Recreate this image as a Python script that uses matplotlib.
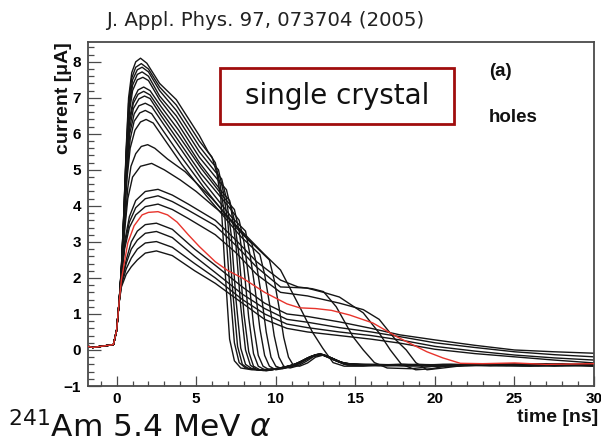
import matplotlib.pyplot as plt
from matplotlib.patches import Rectangle
from matplotlib.ticker import MultipleLocator

# common pre-trigger baseline and start of the rise (all pulses)
pre_t = [-2.0, -1.5, -1.0, -0.5, -0.2, 0.0, 0.15]
pre_i = [0.12, 0.07, 0.10, 0.13, 0.15, 0.55, 1.30]

# fast pulses: high peak, sharp fall at 7-11 ns
fast_t = [
    [0.3, 0.45, 0.6, 0.75, 0.95, 1.2, 1.5, 1.9, 2.7, 3.75, 5.2, 5.75, 6.0, 6.3, 6.55, 6.8, 7.1, 7.4, 7.8,
     8.5, 9.5, 10.5, 11.3, 12.0, 12.8, 13.5, 14.3, 16, 18, 20, 22.5, 25, 27.5, 30],
    [0.3, 0.45, 0.6, 0.75, 0.95, 1.2, 1.55, 2.0, 2.7, 3.75, 5.2, 5.9, 6.2, 6.5, 6.8, 7.1, 7.4, 7.7, 8.1,
     9.0, 10.0, 10.8, 11.5, 12.2, 12.9, 13.6, 14.5, 16.5, 18.5, 21, 23.5, 26, 28, 30],
    [0.3, 0.45, 0.6, 0.78, 1.0, 1.3, 1.6, 2.0, 2.7, 3.75, 5.2, 6.0, 6.4, 6.7, 7.0, 7.3, 7.6, 7.9, 8.3,
     9.2, 10.2, 11.0, 11.7, 12.4, 13.0, 13.8, 14.6, 17, 19, 21.5, 24, 26.5, 30],
    [0.3, 0.45, 0.6, 0.8, 1.0, 1.3, 1.6, 2.0, 2.7, 3.75, 5.2, 6.2, 6.6, 6.9, 7.2, 7.5, 7.8, 8.1, 8.5,
     9.4, 10.3, 11.1, 11.8, 12.5, 13.1, 13.9, 14.8, 16.5, 19.5, 22, 24.5, 27, 30],
    [0.3, 0.45, 0.62, 0.8, 1.0, 1.3, 1.65, 2.0, 2.7, 3.75, 5.2, 6.4, 6.9, 7.2, 7.5, 7.8, 8.1, 8.4, 8.8,
     9.6, 10.4, 11.2, 11.9, 12.6, 13.2, 14.0, 15.0, 17.5, 20, 23, 25.5, 28, 30],
    [0.3, 0.45, 0.62, 0.8, 1.05, 1.35, 1.7, 2.1, 2.8, 3.9, 5.2, 6.6, 7.1, 7.4, 7.7, 8.0, 8.3, 8.6, 9.0,
     9.8, 10.6, 11.3, 12.0, 12.7, 13.3, 14.1, 15.0, 18, 20.5, 23, 26, 28.5, 30],
    [0.3, 0.45, 0.62, 0.8, 1.05, 1.35, 1.7, 2.1, 2.8, 3.9, 5.3, 6.8, 7.4, 7.7, 8.0, 8.3, 8.6, 8.9, 9.3,
     10.0, 10.8, 11.5, 12.1, 12.8, 13.4, 14.2, 15.5, 18, 21, 23.5, 26, 28, 30],
    [0.3, 0.45, 0.63, 0.82, 1.05, 1.4, 1.75, 2.1, 2.8, 3.9, 5.3, 7.0, 7.7, 8.0, 8.3, 8.6, 8.9, 9.2, 9.6,
     10.3, 11.0, 11.6, 12.2, 12.8, 13.5, 14.3, 16, 18.5, 21, 24, 26.5, 30],
    [0.3, 0.45, 0.63, 0.82, 1.1, 1.4, 1.8, 2.2, 2.9, 4.0, 5.4, 7.2, 8.1, 8.4, 8.7, 9.0, 9.3, 9.6, 10.0,
     10.6, 11.2, 11.8, 12.4, 12.9, 13.6, 14.4, 16.5, 19, 22, 24.5, 27, 30],
    [0.3, 0.45, 0.65, 0.85, 1.1, 1.45, 1.8, 2.2, 2.9, 4.0, 5.5, 7.5, 8.5, 8.8, 9.1, 9.4, 9.7, 10.0, 10.4,
     11.0, 11.5, 12.0, 12.5, 13.0, 13.7, 14.5, 17, 19.5, 22.5, 25, 27.5, 30],
    [0.3, 0.45, 0.65, 0.85, 1.15, 1.5, 1.85, 2.3, 3.0, 4.1, 5.6, 7.8, 9.0, 9.3, 9.6, 9.9, 10.2, 10.5, 10.9,
     11.4, 11.9, 12.4, 12.9, 13.5, 14.3, 16, 18.5, 21.5, 24, 26.5, 30],
    [0.3, 0.5, 0.7, 0.9, 1.2, 1.55, 1.95, 2.4, 3.2, 4.3, 6.0, 8.2, 9.6, 9.9, 10.2, 10.5, 10.8, 11.1, 11.5,
     12.0, 12.5, 13.0, 13.6, 14.4, 16.5, 19, 21, 23.5, 26, 28.5, 30],
]
fast_i = [
    [2.3, 3.8, 5.6, 7.0, 7.7, 8.0, 8.1, 7.96, 7.4, 6.95, 5.95, 5.5, 5.35, 4.9, 4.2, 2.3, 0.3, -0.3, -0.5,
     -0.55, -0.56, -0.48, -0.4, -0.22, -0.12, -0.24, -0.4, -0.42, -0.4, -0.45, -0.42, -0.4, -0.45, -0.42],
    [2.3, 3.8, 5.5, 6.85, 7.55, 7.85, 7.95, 7.8, 7.3, 6.8, 5.8, 5.4, 5.2, 4.6, 3.7, 1.8, 0.2, -0.35, -0.5,
     -0.55, -0.52, -0.46, -0.36, -0.18, -0.13, -0.27, -0.42, -0.4, -0.43, -0.4, -0.44, -0.41, -0.38, -0.43],
    [2.3, 3.75, 5.45, 6.8, 7.5, 7.78, 7.85, 7.72, 7.2, 6.65, 5.65, 5.2, 5.0, 4.4, 3.5, 1.6, 0.1, -0.4, -0.52,
     -0.57, -0.5, -0.44, -0.3, -0.15, -0.14, -0.3, -0.41, -0.44, -0.4, -0.43, -0.39, -0.43, -0.4],
    [2.25, 3.7, 5.4, 6.75, 7.35, 7.65, 7.72, 7.6, 7.05, 6.5, 5.5, 4.95, 4.75, 4.2, 3.2, 1.4, 0.05, -0.4, -0.52,
     -0.58, -0.5, -0.42, -0.27, -0.13, -0.15, -0.32, -0.4, -0.43, -0.41, -0.44, -0.42, -0.38, -0.44],
    [2.25, 3.7, 5.4, 6.6, 7.2, 7.5, 7.57, 7.48, 6.95, 6.35, 5.35, 4.7, 4.45, 3.9, 2.9, 1.2, 0.0, -0.42, -0.55,
     -0.56, -0.49, -0.41, -0.25, -0.12, -0.16, -0.33, -0.42, -0.41, -0.43, -0.4, -0.44, -0.41, -0.4],
    [2.2, 3.6, 5.3, 6.4, 6.95, 7.22, 7.3, 7.2, 6.75, 6.1, 5.2, 4.4, 4.15, 3.6, 2.6, 1.0, -0.05, -0.45, -0.55,
     -0.55, -0.47, -0.38, -0.22, -0.11, -0.18, -0.35, -0.41, -0.44, -0.4, -0.42, -0.45, -0.41, -0.43],
    [2.2, 3.6, 5.2, 6.3, 6.85, 7.1, 7.18, 7.08, 6.62, 5.95, 5.05, 4.2, 3.9, 3.3, 2.3, 0.9, -0.1, -0.45, -0.55,
     -0.53, -0.45, -0.34, -0.2, -0.1, -0.2, -0.36, -0.42, -0.4, -0.45, -0.41, -0.39, -0.43, -0.41],
    [2.2, 3.55, 5.1, 6.15, 6.7, 6.97, 7.05, 6.98, 6.5, 5.8, 4.9, 4.0, 3.6, 3.0, 2.0, 0.7, -0.15, -0.45, -0.55,
     -0.52, -0.43, -0.32, -0.18, -0.11, -0.23, -0.38, -0.4, -0.44, -0.41, -0.43, -0.4, -0.44],
    [2.2, 3.5, 5.0, 6.0, 6.55, 6.78, 6.85, 6.76, 6.3, 5.6, 4.7, 3.7, 3.3, 2.6, 1.7, 0.6, -0.15, -0.45, -0.55,
     -0.5, -0.4, -0.29, -0.15, -0.12, -0.25, -0.39, -0.43, -0.41, -0.4, -0.44, -0.42, -0.39],
    [2.15, 3.45, 4.9, 5.85, 6.35, 6.58, 6.65, 6.56, 6.1, 5.4, 4.5, 3.4, 2.95, 2.35, 1.5, 0.5, -0.2, -0.45, -0.52,
     -0.47, -0.38, -0.25, -0.14, -0.13, -0.27, -0.4, -0.41, -0.44, -0.42, -0.39, -0.42, -0.45],
    [2.15, 3.4, 4.75, 5.6, 6.1, 6.33, 6.4, 6.3, 5.85, 5.15, 4.3, 3.15, 2.65, 2.1, 1.3, 0.4, -0.2, -0.45, -0.5,
     -0.44, -0.32, -0.18, -0.13, -0.22, -0.38, -0.42, -0.4, -0.43, -0.41, -0.44, -0.41],
    [2.1, 3.4, 4.5, 5.1, 5.45, 5.65, 5.7, 5.6, 5.3, 4.95, 4.2, 3.1, 2.5, 1.95, 1.2, 0.35, -0.2, -0.42, -0.45,
     -0.36, -0.2, -0.14, -0.24, -0.4, -0.42, -0.44, -0.41, -0.43, -0.4, -0.43, -0.42],
]

# medium pulses: fall between 12 and 19 ns
mid_t = [
    [0.3, 0.5, 0.7, 1.0, 1.5, 2.2, 3.0, 4.0, 5.0, 6.2, 7.2, 8.3, 9.3, 10.3,
     11.5, 12.3, 12.95, 13.6, 14.3, 15.5, 17, 20, 23, 26, 30],
    [0.3, 0.5, 0.8, 1.2, 1.8, 2.6, 3.5, 4.5, 6.2, 7.5, 8.8, 10.3, 11.4, 12.3, 13.0,
     13.8, 14.85, 15.5, 16.2, 17.0, 18.5, 20, 23, 26, 30],
    [0.3, 0.5, 0.8, 1.2, 1.8, 2.6, 3.5, 4.5, 6.2, 7.5, 8.8, 10.3, 11.95, 13.0, 14.0,
     15.5, 16.5, 17.2, 17.9, 18.8, 19.8, 21, 24, 27, 30],
    [0.3, 0.5, 0.8, 1.2, 1.8, 2.6, 3.5, 4.5, 6.2, 7.5, 8.8, 10.3, 12.0, 14.0, 15.5,
     16.5, 17.5, 18.2, 18.8, 19.5, 20.5, 22, 25, 28, 30],
]
mid_i = [
    [2.1, 3.3, 4.2, 4.8, 5.1, 5.18, 5.0, 4.72, 4.4, 3.95, 3.6, 3.1, 2.65, 2.22,
     1.2, 0.5, 0.05, -0.35, -0.45, -0.45, -0.42, -0.43, -0.4, -0.42, -0.4],
    [2.05, 3.0, 3.7, 4.15, 4.4, 4.46, 4.3, 4.05, 3.6, 3.05, 2.45, 1.94, 1.75, 1.7, 1.62,
     1.2, 0.37, 0.0, -0.35, -0.5, -0.52, -0.45, -0.4, -0.4, -0.43],
    [2.0, 2.9, 3.55, 3.95, 4.2, 4.28, 4.12, 3.88, 3.45, 2.9, 2.3, 1.75, 1.72, 1.6, 1.47,
     1.03, 0.47, 0.0, -0.4, -0.55, -0.52, -0.42, -0.4, -0.42, -0.4],
    [1.98, 2.8, 3.4, 3.75, 3.98, 4.05, 3.9, 3.65, 3.2, 2.7, 2.1, 1.6, 1.5, 1.3, 1.12,
     0.85, 0.3, 0.0, -0.35, -0.55, -0.5, -0.42, -0.4, -0.43, -0.42],
]

# highlighted (red) pulse
red_t = [0.3, 0.7, 1.1, 1.6, 2.0, 2.6, 3.2, 3.8, 4.5, 5.2, 6.2, 7.0, 7.9, 9.3, 10.7, 11.5, 12.5,
         13.5, 14.65, 16.1, 17.6, 18.5, 19.5, 20.5, 21.6, 23, 25, 27, 30]
red_i = [1.95, 2.97, 3.45, 3.75, 3.82, 3.84, 3.75, 3.55, 3.2, 2.87, 2.45, 2.2, 2.0, 1.6, 1.28, 1.17, 1.15,
         1.1, 0.97, 0.75, 0.37, 0.17, -0.05, -0.22, -0.37, -0.38, -0.36, -0.4, -0.38]

# slow pulses: low peak, long tail
slow_t = [0.3, 0.6, 0.92, 1.3, 1.8, 2.5, 3.5, 4.9, 6.2, 7.9, 9.3, 10.7, 12, 14, 16, 17.8,
          20, 22.5, 25, 27.5, 30]
slow_i = [
    [1.9, 2.5, 3.0, 3.3, 3.48, 3.52, 3.35, 2.8, 2.35, 1.75, 1.3, 1.0, 0.93, 0.78, 0.6, 0.42,
     0.28, 0.13, 0.0, -0.05, -0.09],
    [1.85, 2.4, 2.8, 3.05, 3.24, 3.29, 3.12, 2.6, 2.15, 1.55, 1.15, 0.85, 0.77, 0.62, 0.5, 0.37,
     0.2, 0.07, -0.05, -0.13, -0.19],
    [1.8, 2.25, 2.55, 2.8, 2.97, 3.01, 2.85, 2.4, 2.0, 1.4, 1.0, 0.72, 0.62, 0.5, 0.4, 0.28,
     0.1, -0.03, -0.14, -0.22, -0.28],
    [1.75, 2.1, 2.31, 2.5, 2.69, 2.75, 2.62, 2.2, 1.85, 1.3, 0.85, 0.6, 0.5, 0.4, 0.3, 0.19,
     0.02, -0.1, -0.19, -0.28, -0.36],
]

W, H = 601, 445
fig = plt.figure(figsize=(W / 100, H / 100), dpi=100)
ax = fig.add_axes([88 / W, 1 - 386 / H, (594 - 88) / W, (386 - 42) / H])

black = '#151515'
for t, i in zip(fast_t, fast_i):
    ax.plot(pre_t + t, pre_i + i, color=black, lw=1.0)
for t, i in zip(mid_t, mid_i):
    ax.plot(pre_t + t, pre_i + i, color=black, lw=1.0)
for i in slow_i:
    ax.plot(pre_t + slow_t, pre_i + i, color=black, lw=1.0)
ax.plot(pre_t + red_t, pre_i + red_i, color='#e8342c', lw=1.0, zorder=5)

ax.set_xlim(-1.8, 30)
ax.set_ylim(-1, 8.55)
ax.xaxis.set_major_locator(MultipleLocator(5))
ax.xaxis.set_minor_locator(MultipleLocator(1))
ax.yaxis.set_major_locator(MultipleLocator(1))
ax.yaxis.set_minor_locator(MultipleLocator(0.2))

frame = '#4a4a4a'
for s in ax.spines.values():
    s.set_color(frame)
    s.set_linewidth(1.3)
ax.tick_params(which='both', direction='in', top=False, right=False, color=frame, width=0.9)
ax.tick_params(axis='y', which='major', length=9.4, pad=5)
ax.tick_params(axis='y', which='minor', length=4.3)
ax.tick_params(axis='x', which='major', length=7.2, pad=4)
ax.tick_params(axis='x', which='minor', length=3.6)
for lab in ax.get_xticklabels() + ax.get_yticklabels():
    lab.set_fontfamily('Liberation Sans')
    lab.set_fontweight('bold')
    lab.set_fontsize(11)

bold = dict(family='Liberation Sans', weight='bold', color='#111111')
fig.text(63 / W, 1 - 42 / H, 'current [\u03bcA]', rotation=90, ha='center', va='top', fontsize=14, **bold)
fig.text(598 / W, 1 - 418 / H, 'time [ns]', ha='right', va='center', fontsize=14, **bold)
fig.text(489 / W, 1 - 72 / H, '(a)', ha='left', va='center', fontsize=13.5, **bold)
fig.text(489 / W, 1 - 118 / H, 'holes', ha='left', va='center', fontsize=13.5, **bold)

fig.text(265 / W, 1 - 20 / H, 'J. Appl. Phys. 97, 073704 (2005)', ha='center', va='center',
         fontsize=14.2, family='DejaVu Sans', color='#222222')

fig.patches.append(Rectangle((220 / W, 1 - 124 / H), 234 / W, 56 / H, transform=fig.transFigure,
                             facecolor='white', edgecolor='#a00d0d', linewidth=2.0, zorder=10))
fig.text(337 / W, 1 - 96 / H, 'single crystal', ha='center', va='center', fontsize=20,
         family='DejaVu Sans', color='#111111', zorder=11)

fig.text(8 / W, 1 - 437 / H, r'$^{241}$Am 5.4 MeV $\alpha$', ha='left', va='baseline', fontsize=22.5,
         family='DejaVu Sans', color='#111111')

fig.savefig('out.png', dpi=100)
